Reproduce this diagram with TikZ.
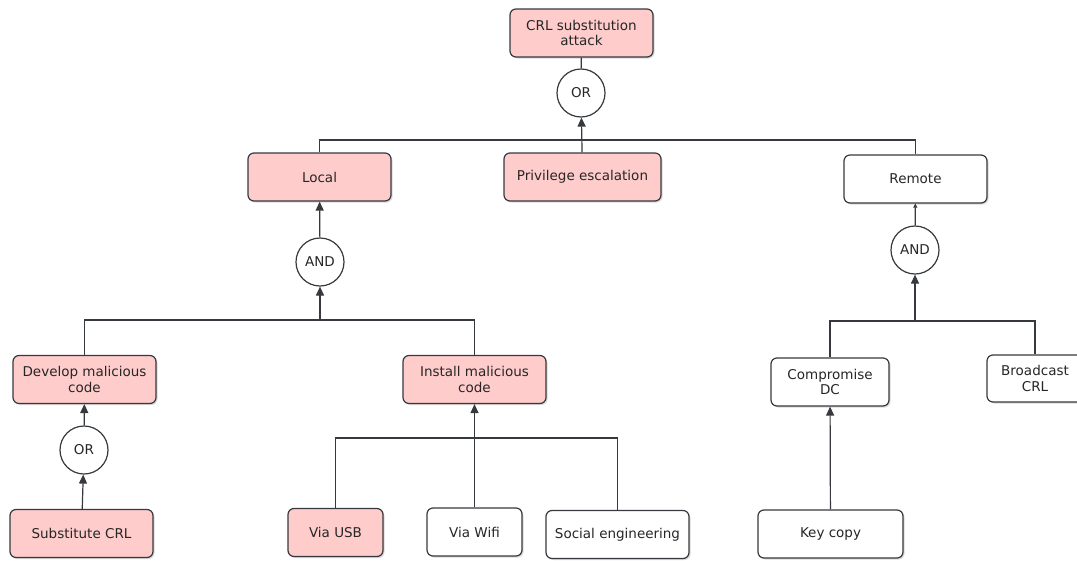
\documentclass[tikz,border=0pt]{standalone}
\usepackage{fontspec}
\setmainfont{DejaVu Sans}
\usetikzlibrary{arrows.meta,shadows}
\definecolor{attackred}{HTML}{FFCCCC}
\definecolor{edgegray}{HTML}{36393D}
\begin{document}
\begin{tikzpicture}[x=1pt,y=-1pt,line width=1.2pt,
  every node/.style={font=\fontsize{13.5}{15.5}\selectfont,text=black!85,align=center},
  leaf/.style={draw=edgegray,fill=white,rounded corners=6pt,minimum width=143pt,minimum height=48pt,inner sep=2pt,
    drop shadow={opacity=0.3,shadow xshift=1.5pt,shadow yshift=-1.5pt}},
  hit/.style={leaf,fill=attackred},
  gate/.style={draw=edgegray,fill=white,circle,minimum size=48pt,inner sep=0pt},
  link/.style={draw=edgegray},
  up/.style={link,-{Triangle[length=9pt,width=8pt]}},
  tinyup/.style={link,-{Triangle[length=4pt,width=4pt]}}]
\clip (0,0) rectangle (1077,560);
% root and first gate
\node[hit] (root) at (581.5,33) {CRL substitution\\attack};
\node[gate] (orTop) at (581,93) {OR};
\node[hit] (local) at (319.5,177) {Local};
\node[hit,minimum width=157pt] (privEsc) at (582.5,177) {Privilege escalation};
\node[leaf] (remote) at (915.5,179) {Remote};
% local branch
\node[gate] (andLocal) at (320,262) {AND};
\node[hit] (develop) at (84.5,379.5) {Develop malicious\\code};
\node[hit] (install) at (474.5,379.5) {Install malicious\\code};
\node[gate] (orDev) at (84,450) {OR};
\node[hit] (substCrl) at (81.5,533.5) {Substitute CRL};
\node[hit,minimum width=95pt] (viaUsb) at (335.5,532.5) {Via USB};
\node[leaf,minimum width=95pt] (viaWifi) at (474.5,532) {Via Wifi};
\node[leaf] (socialEng) at (617.5,534.5) {Social engineering};
% remote branch
\node[gate] (andRemote) at (915,250) {AND};
\node[leaf,minimum width=118pt] (compDc) at (830,382) {Compromise\\DC};
\node[leaf,minimum width=96pt,minimum height=47pt] (bcastCrl) at (1035,378.5) {Broadcast\\CRL};
\node[leaf,minimum width=145pt] (keyCopy) at (830.5,534) {Key copy};
% junctions
\coordinate (jTop) at (581,140);
\coordinate (jLocal) at (320,320);
\coordinate (jInst) at (474,438);
\coordinate (jRemote) at (915,321);
% connectors
\draw[link] (orTop) -- (root);
\draw[up] (privEsc) -- (orTop);
\draw[link] (local.north) |- (jTop) -| (remote.north);
\draw[up] (andLocal) -- (local);
\draw[link] (develop.north) |- (jLocal) -| (install.north);
\draw[up] (jLocal) -- (andLocal);
\draw[up] (orDev) -- (develop);
\draw[up] (substCrl) -- (orDev);
\draw[link] (viaUsb.north) |- (jInst) -| (socialEng.north);
\draw[up] (viaWifi) -- (install);
\draw[tinyup] (andRemote) -- (remote);
\draw[link] (compDc.north) |- (jRemote) -| (bcastCrl.north);
\draw[up] (jRemote) -- (andRemote);
\draw[up] (keyCopy) -- (compDc);
\end{tikzpicture}
\end{document}
